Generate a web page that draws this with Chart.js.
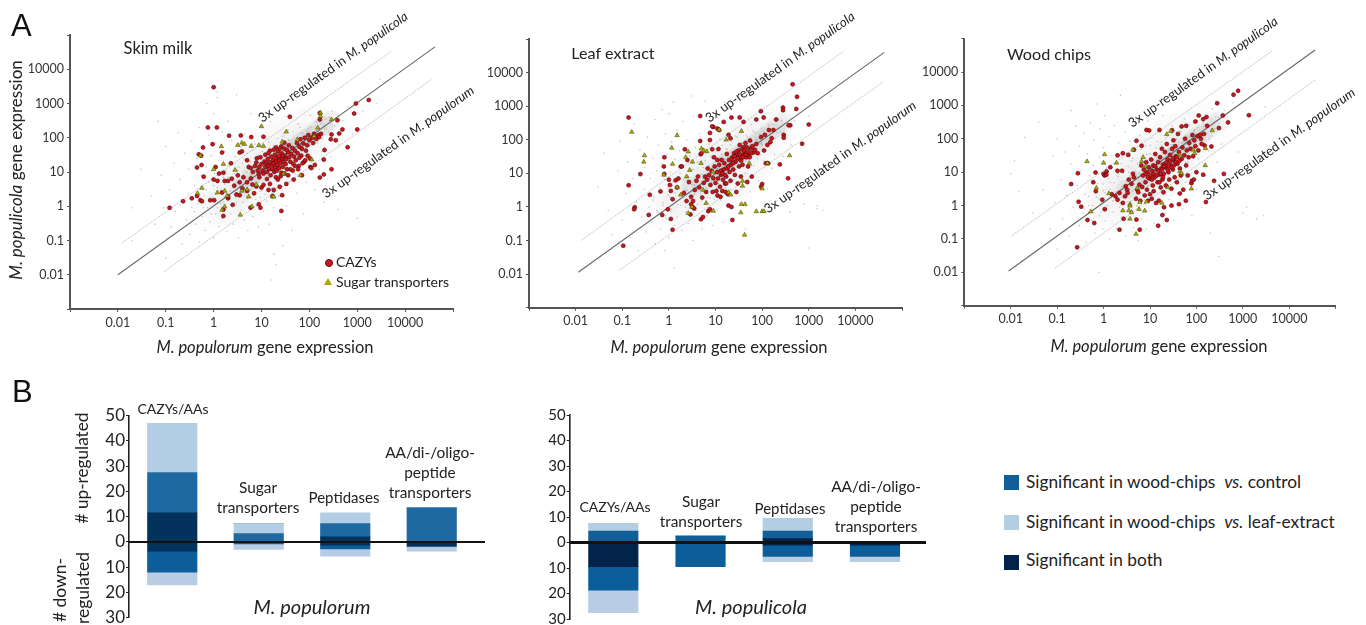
<!DOCTYPE html>
<html lang="en">
<head>
<meta charset="UTF-8">
<title>Gene expression comparison</title>
<style>
    html, body { margin: 0; padding: 0; background: #fff; width: 1366px; height: 625px; overflow: hidden; }
    body { position: relative; font-family: Lato, sans-serif; color: #222; }
    canvas { position: absolute; }
    .t { position: absolute; white-space: nowrap; transform: translate(-50%, -50%); line-height: 1; }
    .r90 { transform: translate(-50%, -50%) rotate(-90deg); }
    .diag { font-size: 13px; transform: translate(-50%, -50%) rotate(-35.5deg); }
    .xt { font-size: 16.5px; }
    .cat { font-size: 15.4px; text-align: center; line-height: 20px; }
    .sw { position: absolute; width: 15px; height: 15px; }
    .lg { position: absolute; font-size: 17.3px; white-space: pre; line-height: 1; transform: translateY(-50%); }
    .big { position: absolute; font-family: "Liberation Sans", sans-serif; font-size: 31px; color: #111; line-height: 1; }
</style>
<script src="https://cdn.jsdelivr.net/npm/chart.js"></script>
</head>
<body>
<canvas id="skim" width="470" height="331" style="left:20px;top:14px"></canvas>
<canvas id="leaf" width="450" height="331" style="left:480px;top:14px"></canvas>
<canvas id="wood" width="451" height="331" style="left:915px;top:14px"></canvas>
<canvas id="popA" width="400" height="250" style="left:90px;top:400px"></canvas>
<canvas id="popB" width="400" height="250" style="left:530px;top:400px"></canvas>

<div class="big" style="left:11px;top:10px">A</div>
<div class="big" style="left:12px;top:376px">B</div>

<div class="t" style="left:158px;top:48px;font-size:16.5px">Skim milk</div>
<div class="t" style="left:613px;top:53px;font-size:16.2px">Leaf extract</div>
<div class="t" style="left:1049px;top:54px;font-size:16.2px">Wood chips</div>

<div class="t diag" style="left:333px;top:67px">3x up-regulated in <i>M. populicola</i></div>
<div class="t diag" style="left:398px;top:142px">3x up-regulated in <i>M. populorum</i></div>
<div class="t diag" style="left:780px;top:67px">3x up-regulated in <i>M. populicola</i></div>
<div class="t diag" style="left:840px;top:157px">3x up-regulated in <i>M. populorum</i></div>
<div class="t diag" style="left:1203px;top:72px">3x up-regulated in <i>M. populicola</i></div>
<div class="t diag" style="left:1279px;top:144px">3x up-regulated in <i>M. populorum</i></div>

<div class="t r90" style="left:15px;top:170px;font-size:17px"><i>M. populicola</i> gene expression</div>
<div class="t xt" style="left:265px;top:347px"><i>M. populorum</i> gene expression</div>
<div class="t xt" style="left:719px;top:347px"><i>M. populorum</i> gene expression</div>
<div class="t xt" style="left:1159px;top:346px"><i>M. populorum</i> gene expression</div>

<div class="sw" style="left:324.5px;top:259px;width:6px;height:6px;border-radius:50%;background:#d0141c;border:.5px solid #611"></div>
<div class="t" style="left:336px;top:262px;font-size:14px;transform:translateY(-50%)">CAZYs</div>
<div class="sw" style="left:324px;top:278px;width:8px;height:7px;background:#a8a800;clip-path:polygon(50% 0,100% 100%,0 100%)"></div>
<div class="t" style="left:336px;top:282px;font-size:14px;transform:translateY(-50%)">Sugar transporters</div>

<div class="t r90" style="left:82px;top:468px;font-size:17.2px"># up-regulated</div>
<div class="t r90" style="left:60px;top:590px;font-size:17.5px"># down-</div>
<div class="t r90" style="left:83px;top:588px;font-size:17.5px">regulated</div>

<div class="t cat" style="left:173px;top:409px;font-size:14px">CAZYs/AAs</div>
<div class="t cat" style="left:258px;top:497px">Sugar<br>transporters</div>
<div class="t cat" style="left:344px;top:497px;font-size:15px">Peptidases</div>
<div class="t cat" style="left:430px;top:472px">AA/di-/oligo-<br>peptide<br>transporters</div>
<div class="t" style="left:312px;top:606px;font-size:20px;font-style:italic">M. populorum</div>

<div class="t cat" style="left:615px;top:507px;font-size:14px">CAZYs/AAs</div>
<div class="t cat" style="left:701px;top:511px">Sugar<br>transporters</div>
<div class="t cat" style="left:790px;top:508px;font-size:15px">Peptidases</div>
<div class="t cat" style="left:876px;top:506px">AA/di-/oligo-<br>peptide<br>transporters</div>
<div class="t" style="left:751px;top:606px;font-size:20px;font-style:italic">M. populicola</div>

<div class="sw" style="left:1004px;top:475px;background:#125f97"></div>
<div class="lg" style="left:1026px;top:482px">Significant in wood-chips  <i>vs.</i> control</div>
<div class="sw" style="left:1004px;top:515px;background:#b3cde3"></div>
<div class="lg" style="left:1026px;top:522px">Significant in wood-chips  <i>vs.</i> leaf-extract</div>
<div class="sw" style="left:1004px;top:555px;background:#03234a"></div>
<div class="lg" style="left:1026px;top:560px">Significant in both</div>

<script>
// axis ticks shared by the three scatter panels
const logTickValues = [0.001, 0.01, 0.1, 1, 10, 100, 1000, 10000, 100000];
const logTickLabels = ['', '0.01', '0.1', '1', '10', '100', '1000', '10000', ''];

// ---- skim milk ----
const skimDiagonal = [[0.01, 0.01], [42000, 45000]];
const skimUpper = [[0.012, 0.083], [5200, 34000]];
const skimLower = [[0.09, 0.012], [36000, 5100]];
const skimCazy = [[1,3000],[.76,200],[1.17,200],[2.1,115],[3.7,117],[.95,65],[.6,52],[.49,33],[.55,30],[.45,13.5],[.56,16],[.62,7.3],
[.12,.9],[.23,1.4],[.35,1.7],[.45,2],[.53,1.5],[.57,1.4],[.85,1.5],[1.03,1.5],[1000,175],[1740,1270],[940,1000],[860,510],[630,53],[490,175],[385,325],[420,133],[355,84],[280,90],[290,125],[290,12],[200,8.5],[165,6.9],[200,23],[207,44],[39,410],[165,530],[165,340],[11,107],[6.1,105],
[1.6,.52],[1.6,.8],[26,.73],[9.5,.91],[8.8,1.15],[5.9,.91],[27,2.1],[17,2],[14,3],[10,3.5],[7,2.4],[5,2.8],[3.5,2.1],[3,2.2],[2.5,1.1],[2,1.7],[2,1.9],[1.5,2.5],[1.2,5.5],[1,6],[1.1,14],[1.3,9],[1.6,9.5],[2,5.5],[1.7,5.5],[2.4,6.4],[2.7,4],[3.2,8],[3.5,5],[4.2,7],[4,3.3],[5,5],[6,6.5],[6.5,4.3],[7.8,3.8],[9,7],[11,4.2],[13,6.2],[15,4.5],[18,3],[24,3.7],[33,4.5],
[1.5,37],[2.3,18],[3.5,37],[3.9,40],[5,22],[5.4,14],[6,13],[6.6,10],[7.3,15],[7.8,19],[8.3,11],[8.8,8.7],[9,14],[9.5,27],[10,17],[10.5,11],[11,9],[11.5,20],[12,14],[12.5,18],[13,10],[13.5,24],[14,15],[14.5,12],[15,19],[15.5,8],[16,28],[16.5,16],[17,12],[17.5,22],[18,18],[18.5,10],[19,32],[19.5,14],[20,25],[20.5,20],[21,11],[21.5,16],[22,40],[23,29],[23.5,13],[24,22],[25,18],[26,9.5],[26.5,35],[27,25],[28,14],[29,20],[30,48],[31,30],[32,17],[33,24],[34,12],[36,38],[37,60],[38,27],[40,20],[42,34],[44,50],[46,17],[48,28],[50,42],[52,22],[55,70],[57,35],[60,15],[62,55],[65,90],[68,30],[70,48],[75,68],[78,20],[80,100],[85,42],[90,60],[95,120],[100,85],[105,14],[110,13],[115,100],[120,70],[125,130],[130,16],[140,92],[150,110],[155,120],[160,105],[175,130],[70,8],[58,12],[45,11],[82,22],[47,6],
[8,25],[12,32],[15,42],[20,52],[26,56],[30,72],[20,7],[25,7.5],[30,9],[36,8],[40,12],[50,15],[62,26],[72,18],[92,30],[102,25],[14,36],[18,45],[24,48],[34,44],[28,30],[22,6]];
const skimSugar = [[.53,30],[1.45,56],[3.2,61],[3.9,71],[4.4,65],[6.1,57],[8.8,60],[10,215],[11,57],[33,150],[27,76],[56,89],[170,530],[170,425],[290,340],[150,195],[125,110],[112,23],[65,8],[29,9],[1,12],[1.6,17],[.57,3.4],[.46,2.4],[1.2,2.5],[1.9,2],[2.8,11.4],[1.7,2.8],[5.4,1.9],[17,1.9],[18,1.9],[6.3,.98],[1.7,.98],[1.5,.78],[3.6,.56],[7.8,4.2],[5,3.1],[3.9,2.8]];
const skimGray = [[.02,.9],[.03,12],[.05,2],[.06,.3],[.07,300],[.08,8],[.09,.9],[.1,55],[.1,.03],[.12,3],[.13,.25],[.15,18],[.16,.7],[.18,140],[.2,1.1],[.2,6],[.22,.08],[.25,35],[.27,.4],[.3,2.4],[.3,12],[.32,.15],[.35,80],[.35,.9],[.4,4],[.42,.3],[.45,25],[.47,1.2],[.5,200],[.5,.09],[.55,8],[.58,.5],[.6,60],[.62,2],[.65,.2],[.7,14],[.72,1000],[.75,.9],[.8,5],[.8,120],[.85,.35],[.9,30],[.95,1.8],[1,500],[1,.12],[1.05,9],[1.1,.6],[1.1,70],[1.2,3.5],[1.2,1500],[1.3,.25],[1.3,22],[1.4,1.2],[1.5,150],[1.5,.45],[1.6,7],[1.7,40],[1.8,.9],[1.9,.18],[2,15],[2,300],[2.2,2.8],[2.3,.6],[2.4,85],[2.5,5.5],[2.6,.3],[2.8,28],[3,1.3],[3,1800],[3.2,11],[3.3,.12],[3.5,3.8],[3.7,55],[3.8,.75],[4,18],[4.2,8],[4.4,.4],[4.5,130],[4.8,2],[5,35],[5.2,.2],[5.5,6],[5.7,1],[6,20],[6,500],[6.3,3.3],[6.6,.5],[7,12],[7.3,65],[7.6,1.6],[8,28],[8.3,5],[8.6,.25],[9,17],[9.3,220],[9.6,2.8],[10,9],[10.5,40],[11,.7],[11,23],[11.5,4.5],[12,13],[12.5,90],[13,1.4],[13.5,30],[14,7],[14.5,.3],[15,16],[15.5,300],[16,3.2],[17,45],[17.5,10],[18,.9],[19,22],[20,6],[20,700],[21,60],[22,14],[23,2],[24,32],[25,.4],[26,18],[27,110],[28,8],[30,42],[32,25],[33,1],[35,14],[36,170],[38,5],[40,70],[42,30],[44,.2],[45,20],[48,100],[50,9],[52,45],[55,2.4],[58,250],[60,28],[63,65],[66,15],[70,140],[72,40],[75,.6],[80,85],[85,5],[90,30],[95,190],[100,60],[105,450],[110,20],[120,110],[130,3],[140,160],[150,70],[160,12],[170,250],[190,95],[200,1.3],[220,350],[250,150],[280,28],[300,600],[340,220],[400,.8],[420,60],[500,320],[650,800],[800,130],[1000,.45],[1300,600],[2500,1000],[3000,5000],[16,.007],[20,.02],[28,.07],[18,.04],[1.2,2200],[.02,.1],
[.4,.7],[.5,1.7],[.6,.9],[.7,3],[.8,1.4],[.9,.6],[1,4],[1.1,2.2],[1.2,.9],[1.3,6],[1.4,2.9],[1.6,1.3],[1.7,4.4],[1.8,11],[2,2.3],[2.1,7],[2.3,1.1],[2.5,3.4],[2.7,9],[2.9,1.8],[3.1,5],[3.4,14],[3.6,2.6],[3.9,7],[4.1,1.3],[4.3,24],[4.6,4],[4.9,10],[5.1,1.7],[5.4,16],[5.8,3],[6.1,8],[6.4,44],[6.8,2.1],[7.2,19],[7.5,5],[7.9,1],[8.2,12],[8.5,31],[8.9,3.4],[9.2,6.5],[9.5,1.8],[9.9,24],[10.3,58],[10.8,4],[11.3,15],[11.8,2.2],[12.3,34],[13,9],[13.6,18],[14.2,75],[15,5],[15.8,28],[16.5,11],[17.2,2.6],[18,58],[19,13],[20,34],[21,3.5],[22,95],[23,20],[24.5,7],[26,42],[27.5,14],[29,130],[31,60],[34,4.5],[37,85],[39,25],[43,11],[46,150],[50,33],[54,75],[59,18],[64,200],[69,55],[74,105],[80,30],[88,160],[96,85],[110,200],[125,70],[140,290],[165,130],[185,40],[210,180],[260,400]];
const skimHaze = [[4,4],[6,7],[9,9],[12,14],[16,18],[20,22],[25,30],[32,32],[40,48],[50,50],[65,75],[85,95],[110,120],[150,170],[200,220],[280,320]];
const skimCloud = [[.7,.7],[1,3],[1.5,1],[2,8],[2,2],[3,.8],[3,4],[4,14],[5,2],[5,6],[7,20],[8,3],[10,40],[10,10],[14,5],[16,70],[20,20],[25,8],[30,120],[35,40],[50,18],[60,180],[70,70],[100,35],[120,250],[200,120]];

// ---- leaf extract ----
const leafDiagonal = [[0.0114, 0.0114], [41600, 40000]];
const leafUpper = [[0.013, 0.1], [5400, 42000]];
const leafLower = [[0.087, 0.013], [38000, 5100]];
const leafCazy = [[450,4500],[560,1900],[540,830],[94,710],[280,910],[280,760],[4.7,510],[.137,460],[1000,285],[400,270],[370,270],[200,400],[108,460],[75,400],[40,340],[33,460],[22,460],[15,340],[9,240],[8.5,250],[11,215],[12,195],[140,195],[175,195],[115,140],[290,140],[290,115],[720,76],[7.6,160],[7.6,98],[19,140],[21,110],[240,18.5],[135,20],[120,20],[360,7.1],[100,4.8],[95,4],
[.137,4.4],[.245,9.5],[.39,2.3],[.185,.98],[.18,.85],[.37,.58],[.72,.58],[.95,.85],[1.1,.44],[1.2,.21],[.105,.07],[4.9,.43],[23,.41],[.66,2.9],[.8,30],[.78,16],[.8,9.6],
[1,6.5],[1.05,4.5],[1.1,3],[1.2,1.7],[1.4,6.2],[1.5,3.8],[1.6,7],[1.8,16],[1.9,16],[2.1,2.6],[2.2,52],[2.4,1.5],[2.5,25],[2.7,5.5],[2.9,.6],[3,2],[3,1.2],[3.2,1],[3.3,1.5],[3.5,.9],[3.6,3.2],[3.9,6],[4.2,8],[4.5,3.8],[4.7,92],[4.8,37],[5,40],[5.2,1.9],[5.4,.5],[5.6,5.2],[6,8],[6.3,2.8],[6.6,6.5],[6.8,14],[7,.75],[7.3,9],[7.6,.85],[7.8,4.5],[8.2,12],[8.5,52],[8.7,2.8],[9,7.2],[9.3,30],[9.6,16],[10,5.2],[10.5,3],[10.8,11],[11,2.2],[11.3,7],[11.6,53],[12,18],[12.5,4],[12.8,2],[13,9],[13.5,25],[14,3],[14.5,6.5],[15,13],[15.5,20],[16,5],[16.5,2.8],[17,8],[17.5,38],[18,14],[18.5,2.4],[19,1.1],[19.5,25],[20,11],[21,6],[21.5,18],[22,1],[23,30],[24,13],[25,40],[26,9],[27,22],[28,2.8],[29,34],[30,5],[31,48],[32,16],[33,70],[34,26],[35,8],[37,34],[38,18],[40,60],[42,42],[44,80],[46,30],[48,5.5],[50,16],[52,38],[55,95],[57,55],[60,8],[65,42],[70,50],[75,75],[80,40],[95,120],[110,48],[130,70],[150,85],[160,110],
[11,25],[13,12],[16,9],[19,16],[22,26],[24,20],[26,32],[28,44],[30,28],[33,38],[35,24],[37,52],[39,30],[41,48],[45,36],[47,60],[49,44],[54,30],[58,40],[62,64],[14,10],[17,5]];
const leafSugar = [[.16,170],[.3,34],[.29,22],[.78,9],[1.15,57],[1.5,135],[2.3,30],[2.6,44],[3.2,22],[1.2,19],[2.8,12.5],[2.4,8],[5,55],[5.6,48],[4.9,20],[5.4,3.2],[1.8,2.3],[1.5,3.8],[6.3,1.3],[9,.76],[2.6,.65],[3.1,1],[19,2.7],[21,2.3],[38,4.2],[38,5.9],[35,.68],[36,1.2],[43,1.2],[75,.74],[100,.74],[110,.74],[100,3.5],[42,.147],[390,34],[36,180],[12,200],[17,100],[53,20],[130,20],[8.8,11],[6.5,45]];
const leafGray = [[.03,4],[.04,40],[.05,.8],[.06,.15],[.08,12],[.09,90],[.1,.4],[.12,2.5],[.13,22],[.15,.12],[.17,7],[.18,300],[.2,1.4],[.22,.05],[.24,50],[.26,.5],[.3,3.3],[.3,15],[.32,.18],[.35,120],[.38,1],[.4,7],[.43,.35],[.45,28],[.48,2],[.5,400],[.5,.08],[.55,12],[.58,.7],[.6,70],[.63,3.8],[.66,.22],[.7,19],[.72,800],[.75,1.1],[.8,6.5],[.82,.05],[.85,150],[.87,.45],[.9,36],[.95,2.3],[1,600],[1,.12],[1.05,11],[1.1,.75],[1.15,85],[1.2,4.3],[1.25,1300],[1.3,.28],[1.35,26],[1.4,1.5],[1.5,190],[1.5,.5],[1.6,8],[1.7,48],[1.8,1.1],[1.9,.2],[2,18],[2,350],[2.2,3.2],[2.3,.7],[2.4,100],[2.5,6.2],[2.6,.32],[2.8,33],[3,1.5],[3,2000],[3.2,13],[3.3,.1],[3.5,4.5],[3.7,60],[3.8,.8],[4,21],[4.2,9],[4.4,.4],[4.5,150],[4.8,2.4],[5,42],[5.2,.22],[5.5,7],[5.7,1.2],[6,24],[6,1400],[6.3,3.8],[6.6,.55],[7,14],[7.3,75],[7.6,1.8],[8,32],[8.3,6],[8.6,.28],[9,19],[9.3,260],[9.6,3.2],[10,10],[10.5,46],[11,.8],[11,26],[11.5,5],[12,15],[12.5,105],[13,1.6],[13.5,36],[14,8],[14.5,.35],[15,18],[15.5,1300],[16,3.7],[17,52],[17.5,11],[18,1],[19,25],[20,7],[20,580],[21,70],[22,16],[23,2.3],[24,36],[25,.45],[26,21],[27,130],[28,9],[30,48],[32,28],[33,1.2],[35,16],[36,200],[38,6],[40,80],[42,34],[44,.22],[45,23],[48,120],[50,10],[52,52],[55,2.8],[58,290],[60,32],[63,75],[66,17],[70,160],[72,46],[75,.7],[80,100],[85,6],[90,35],[95,220],[100,70],[105,520],[110,23],[120,130],[130,3.5],[140,190],[150,82],[160,14],[170,290],[190,110],[200,1.5],[220,400],[250,170],[280,32],[300,700],[340,260],[400,.7],[420,70],[500,370],[800,1.2],[1000,500],[1500,.9],[3000,2000],[1500,1.1],[2000,.8],[1000,.06],[1.3,.015],
[.35,.6],[.45,1.6],[.55,.8],[.65,2.7],[.75,1.3],[.85,.55],[.95,3.6],[1.05,2],[1.15,.85],[1.25,5.5],[1.35,2.6],[1.55,1.2],[1.65,4],[1.75,10],[1.95,2.1],[2.05,6.4],[2.25,1],[2.45,3.1],[2.65,8.2],[2.85,1.7],[3.05,4.6],[3.35,13],[3.55,2.4],[3.85,6.4],[4.05,1.2],[4.25,22],[4.55,3.7],[4.85,9.2],[5.05,1.6],[5.35,15],[5.75,2.8],[6.05,7.4],[6.35,40],[6.75,1.9],[7.15,17],[7.45,4.6],[7.85,.9],[8.15,11],[8.45,28],[8.85,3.1],[9.15,6],[9.45,1.7],[9.85,22],[10.2,53],[10.7,3.7],[11.2,14],[11.7,2],[12.2,31],[12.9,8.3],[13.5,16],[14.1,69],[14.9,4.6],[15.7,26],[16.4,10],[17.1,2.4],[17.9,53],[18.9,12],[19.9,31],[20.9,3.2],[21.9,87],[22.9,18],[24.4,6.4],[25.9,39],[27.4,13],[28.9,120],[30.9,55],[33.9,4.1],[36.9,78],[38.9,23],[42.9,10],[45.9,138],[49.9,30],[53.9,69],[58.9,17],[63.9,184],[68.9,51],[73.9,97],[79.9,28],[87.9,147],[95.9,78],[109,184],[124,64],[139,267],[164,120],[184,37],[209,166],[259,368]];
const leafHaze = [[3,4],[5,5],[8,9],[10,9],[13,15],[17,18],[20,24],[26,28],[32,35],[40,45],[50,55],[65,70],[85,95],[110,120],[150,170],[200,230],[300,330]];
const leafCloud = [[.6,.8],[1,3],[1.4,1],[2,9],[2,2],[3,.7],[3,4],[4,16],[5,2],[5,7],[6,30],[8,3],[10,50],[10,10],[14,4],[16,90],[20,20],[25,7],[30,150],[35,40],[50,16],[60,200],[70,80],[100,30],[120,280],[200,130]];

// ---- wood chips ----
const woodDiagonal = [[0.009, 0.011], [36000, 46000]];
const woodUpper = [[0.0105, 0.124], [4350, 44000]];
const woodLower = [[0.09, 0.0133], [36000, 5800]];
const woodCazy = [[790,2750],[630,2100],[1350,510],[280,1170],[370,500],[480,310],[305,210],[112,500],[165,450],[140,390],[95,330],[170,245],[60,245],[48,235],[30,180],[16,185],[8.4,185],[9.6,178],[5.1,87],[6.6,62],[2,32],[2.6,37],[3.4,33],[4.5,47],[1.4,14],[2,11],[2.5,11],[1.16,10.5],[1,8.9],[.67,9.8],[.6,5],[.28,9.3],[.2,4.4],[.68,2.7],[.29,1.3],[.33,.93],[.45,.37],[.63,.3],[.27,.056],[1.06,.78],[.94,1.5],[2.2,.19],[2.7,.4],[5.1,.38],[6,.19],[15,.25],[18.5,.52],[23,.37],[20,.89],[29,1],[42,1.1],[59,1.4],[44,2.3],[160,1.28],[390,8.9],[240,5.5],[140,8.4],[210,59],[150,63],
[1.05,8],[1.15,8.4],[1.5,2.2],[1.8,1.9],[2,1.5],[2.2,2.4],[2.6,1.2],[2.9,1.9],[3,3.8],[3.2,3],[3.3,2.4],[3.5,6],[4,4.5],[4.3,9],[4.5,7],[5,1.6],[5.3,3],[5.6,2.5],[5.9,4.2],[6.2,1.4],[6.5,16],[6.8,3.6],[7.1,8],[7.4,12],[7.7,2],[8,5],[8.3,20],[8.6,3],[8.9,10],[9.1,1.4],[9.4,14],[9.7,6.5],[10,2.2],[10.3,8],[10.6,24],[10.9,1.6],[11.2,11],[11.5,4],[11.8,16],[12,2.7],[12.5,7],[13,35],[13.5,1.2],[14,12],[14.5,5],[15,20],[15.5,1.4],[16,8.5],[16.5,28],[17,3.5],[17.5,13],[18,50],[18.5,6],[19,17],[19.5,2.5],[20,9],[21,40],[21.5,14],[22,4],[23,70],[24,24],[25,10],[26,6],[27,33],[28,16],[29,3.2],[30,50],[31,12],[32,90],[33,22],[34,7],[35,60],[36,30],[38,5],[39,18],[40,140],[42,40],[44,13],[46,8],[48,25],[50,55],[52,3],[55,32],[57,100],[60,16],[62,45],[65,8],[68,28],[70,75],[75,50],[78,4.7],[80,5.5],[82,130],[85,30],[88,6],[90,90],[95,60],[100,10],[105,120],[110,45],[120,130],[125,100],[130,70],[145,140],
[8,9],[9,7],[11,6],[12,9],[13,15],[14,8],[15,11],[16,5],[17,9],[18,12],[19,7],[20,15],[22,19],[24,12],[25,16],[27,21],[29,14],[31,26],[33,16],[36,20],[38,28],[43,22]];
const woodSugar = [[.44,21],[1.05,34],[1,19],[1.9,19],[.7,3.4],[1.3,2.3],[.53,.66],[4.3,47],[6.6,21],[7.1,28],[2.6,.71],[3.5,.71],[4,.63],[3.7,.4],[5,.14],[5.8,.78],[7.7,.7],[6,1.26],[8.4,1.3],[3.7,1.1],[3.7,.98],[5.3,3.3],[18,1.2],[24.5,3.5],[78,3.2],[155,16],[157,52],[220,178],[85,47],[92,37],[44,10.5],[48,9.3],[23,137],[28,170],[44,33],[8,15]];
const woodGray = [[.01,9],[.012,22],[.015,2.6],[.02,110],[.03,.6],[.04,320],[.05,3],[.07,.2],[.08,30],[.09,1.2],[.1,.05],[.1,100],[.12,6],[.13,.4],[.15,40],[.16,2],[.18,.12],[.2,18],[.2,700],[.22,.9],[.25,240],[.27,4],[.3,.25],[.3,60],[.33,11],[.36,.6],[.38,150],[.4,2.2],[.42,.08],[.45,36],[.48,1],[.5,8],[.52,300],[.55,.35],[.6,16],[.62,90],[.65,.15],[.7,1.8],[.72,1100],[.75,4.5],[.8,.5],[.82,28],[.85,200],[.9,1.2],[.95,.2],[1,55],[1,2.8],[1.05,500],[1.1,.35],[1.15,14],[1.2,1.5],[1.3,120],[1.35,.1],[1.4,5],[1.5,32],[1.6,.65],[1.7,250],[1.8,2.6],[1.9,.2],[2,9],[2.1,75],[2.2,.9],[2.3,2000],[2.4,18],[2.5,.45],[2.7,4],[2.9,160],[3,.12],[3.1,38],[3.3,1.3],[3.5,10],[3.7,85],[3.8,.55],[4,22],[4.2,2.7],[4.4,.22],[4.6,300],[4.8,6],[5,48],[5.2,1],[5.5,.09],[5.7,14],[6,125],[6.2,3.3],[6.5,.4],[7,27],[7.3,8],[7.6,1.5],[8,62],[8.3,.2],[8.6,18],[9,340],[9.3,4],[9.6,.7],[10,35],[10.5,11],[11,105],[11.5,2],[12,22],[12.5,.3],[13,6],[13.5,55],[14,14],[14.5,170],[15,1.1],[16,30],[17,3.4],[17.5,80],[18,9],[19,500],[20,19],[21,.6],[22,45],[23,5],[24,120],[25,28],[26,1.5],[27,12],[28,65],[30,240],[32,35],[33,.35],[35,8],[37,100],[38,18],[40,2.4],[42,50],[44,170],[46,12],[48,75],[50,.8],[52,30],[55,400],[58,5],[60,120],[63,55],[66,20],[70,260],[75,9],[78,90],[80,.5],[85,40],[90,180],[95,70],[100,3],[105,350],[110,25],[120,130],[130,.9],[140,230],[150,60],[160,8],[170,450],[190,100],[200,.15],[220,800],[250,200],[280,20],[300,450],[350,70],[400,700],[500,350],[600,1200],[800,40],[1000,.6],[1200,.9],[2000,.4],[2800,.5],[3000,900],[300,.03],[.8,.01],
[.38,.8],[.48,1.9],[.58,1],[.68,3.2],[.78,1.6],[.88,.65],[.98,4.4],[1.08,2.4],[1.18,1],[1.28,6.5],[1.38,3.1],[1.58,1.4],[1.68,4.8],[1.78,12],[1.98,2.5],[2.08,7.6],[2.28,1.2],[2.48,3.7],[2.68,9.8],[2.88,2],[3.08,5.5],[3.38,15],[3.58,2.9],[3.88,7.7],[4.08,1.4],[4.28,26],[4.58,4.4],[4.88,11],[5.08,1.9],[5.38,18],[5.78,3.3],[6.08,8.8],[6.38,48],[6.78,2.3],[7.18,21],[7.48,5.5],[7.88,1.1],[8.18,13],[8.48,34],[8.88,3.7],[9.18,7.2],[9.48,2],[9.88,26],[10.3,64],[10.8,4.4],[11.3,17],[11.8,2.4],[12.3,37],[13,10],[13.6,20],[14.2,83],[15,5.5],[15.8,31],[16.5,12],[17.2,2.9],[18,64],[19,14],[20,37],[21,3.9],[22,105],[23,22],[24.5,7.7],[26,46],[27.5,15],[29,143],[31,66],[34,5],[37,94],[39,28],[43,12],[46,165],[50,36],[54,83],[59,20],[64,220],[69,61],[74,116],[80,33],[88,176],[96,94],[110,220],[125,77],[140,319],[165,143],[185,44],[210,198],[260,440]];
const woodHaze = [[3,3],[5,5],[8,7],[10,10],[13,13],[17,16],[22,22],[28,28],[35,35],[45,45],[60,65],[80,85],[100,110],[140,150],[200,220],[300,340]];
const woodCloud = [[.5,.7],[1,3],[1.4,1],[2,9],[2,2],[3,.7],[3,4],[4,16],[5,2],[5,7],[6,30],[8,3],[10,50],[10,10],[14,4],[16,90],[20,20],[25,7],[30,150],[35,40],[50,16],[60,200],[70,80],[100,30],[120,280],[200,130]];

// ---- bar panels, values as stacked segments per category ----
const barCategories = ['CAZYs/AAs', 'Sugar transporters', 'Peptidases', 'AA/di-/oligo-peptide transporters'];
const barTickValues = [-30, -20, -10, 0, 10, 20, 30, 40, 50];

const popABothUp = [11.5, 0, 2, 0];
const popAControlUp = [16, 3.3, 5.3, 13.5];
const popALeafUp = [19.5, 4, 4.2, 0];
const popABothDown = [-3.7, 0, -1.3, -1.8];
const popAControlDown = [-8.3, -0.8, -1.5, 0];
const popALeafDown = [-5, -2.2, -2.8, -1.9];

const popBBothUp = [0, 0, 1.5, 0];
const popBControlUp = [4.5, 2.5, 3, 0];
const popBLeafUp = [3, 0, 5, 0];
const popBBothDown = [-9.5, 0, -1, -1];
const popBControlDown = [-9.2, -9.5, -4.5, -4.5];
const popBLeafDown = [-8.8, 0, -2, -2];

const pts = a => a.map(p => ({ x: p[0], y: p[1] }));

// box = [canvasLeft, canvasTop, canvasWidth, canvasHeight], area = [left, top, right, bottom] in page px
// keep top/right padding above the biggest point radius, chart.js grows the padding to fit it otherwise
function fixedAxes(box, area) {
    return {
        padding: { top: area[1] - box[1], right: box[0] + box[2] - area[2], left: 0, bottom: 0 },
        yWidth: area[0] - box[0],
        xHeight: box[1] + box[3] - area[3]
    };
}

function logAxis(fit) {
    return {
        type: 'logarithmic', min: 0.001, max: 100000,
        afterFit: fit,
        afterBuildTicks: s => { s.ticks = logTickValues.map(v => ({ value: v })); },
        border: { color: '#555', width: 2 },
        grid: { drawOnChartArea: false, tickLength: 3, color: '#555' },
        ticks: {
            autoSkip: false, maxRotation: 0, padding: 3, color: '#333',
            font: { family: 'Lato', size: 12.5 },
            callback: (v, i) => logTickLabels[i]
        }
    };
}

function scatterPanel(id, box, area, s) {
    const f = fixedAxes(box, area);
    new Chart(document.getElementById(id), {
        type: 'scatter',
        data: {
            datasets: [
                { data: pts(s.sugar), pointStyle: 'triangle', pointRadius: 2.6, backgroundColor: '#b0ae00', borderColor: '#3a3a00', borderWidth: 0.5 },
                { data: pts(s.cazy), pointRadius: 2, backgroundColor: '#d0141c', borderColor: '#4a0a0a', borderWidth: 0.6 },
                { data: pts(s.diagonal), showLine: true, pointRadius: 0, borderColor: '#666', borderWidth: 1.1 },
                { data: pts(s.upper), showLine: true, pointRadius: 0, borderColor: '#aaa', borderWidth: 0.9, borderDash: [1, 1] },
                { data: pts(s.lower), showLine: true, pointRadius: 0, borderColor: '#aaa', borderWidth: 0.9, borderDash: [1, 1] },
                { data: pts(s.gray), pointRadius: 0.8, backgroundColor: 'rgba(120,120,120,0.4)', borderWidth: 0 },
                { data: pts(s.haze), pointRadius: 10, backgroundColor: 'rgba(120,120,120,0.09)', borderWidth: 0 },
                { data: pts(s.cloud), pointRadius: 20, backgroundColor: 'rgba(140,140,140,0.025)', borderWidth: 0 }
            ]
        },
        options: {
            responsive: false, animation: false,
            layout: { padding: f.padding },
            plugins: { legend: { display: false }, tooltip: { enabled: false } },
            scales: {
                x: logAxis(a => { a.height = f.xHeight; }),
                y: logAxis(a => { a.width = f.yWidth; })
            }
        }
    });
}

// x is linear so the zero line can run past the last bar: one category is one unit
function barPanel(id, box, area, xMax, s, tickSize, zeroWidth, shades) {
    const f = fixedAxes(box, area);
    f.padding.bottom = f.xHeight;
    const seg = (values, color) => ({
        stack: 's', backgroundColor: color, barThickness: 49.5, borderWidth: 0, order: 1,
        data: values.map((v, i) => ({ x: i + 1, y: v }))
    });
    new Chart(document.getElementById(id), {
        type: 'bar',
        data: {
            labels: barCategories,
            datasets: [
                { type: 'line', stack: 'zero', data: [{ x: 0.5, y: 0 }, { x: xMax, y: 0 }], borderColor: '#111', borderWidth: zeroWidth, pointRadius: 0, order: 0 },
                seg(s.bothUp, shades.dark),
                seg(s.controlUp, shades.midUp),
                seg(s.leafUp, shades.lightUp),
                seg(s.bothDown, shades.dark),
                seg(s.controlDown, shades.midDown),
                seg(s.leafDown, shades.lightDown)
            ]
        },
        options: {
            responsive: false, animation: false,
            layout: { padding: f.padding },
            plugins: { legend: { display: false }, tooltip: { enabled: false } },
            scales: {
                x: { type: 'linear', min: 0.5, max: xMax, offset: false, display: false, stacked: true },
                y: {
                    min: -30, max: 50, stacked: true,
                    afterFit: a => { a.width = f.yWidth; },
                    afterBuildTicks: a => { a.ticks = barTickValues.map(v => ({ value: v })); },
                    border: { color: '#222', width: 1.6 },
                    grid: { drawOnChartArea: false, tickLength: 3, color: '#222' },
                    ticks: { autoSkip: false, padding: 1, color: '#222', font: { family: 'Lato', size: tickSize }, callback: v => Math.abs(v) }
                }
            }
        }
    });
}

scatterPanel('skim', [20, 14, 470, 331], [70, 35, 453, 309], {
    cazy: skimCazy, sugar: skimSugar, gray: skimGray, haze: skimHaze, cloud: skimCloud,
    diagonal: skimDiagonal, upper: skimUpper, lower: skimLower
});
scatterPanel('leaf', [480, 14, 450, 331], [529, 39, 902, 307.7], {
    cazy: leafCazy, sugar: leafSugar, gray: leafGray, haze: leafHaze, cloud: leafCloud,
    diagonal: leafDiagonal, upper: leafUpper, lower: leafLower
});
scatterPanel('wood', [915, 14, 451, 331], [964.3, 38.7, 1335.7, 305.7], {
    cazy: woodCazy, sugar: woodSugar, gray: woodGray, haze: woodHaze, cloud: woodCloud,
    diagonal: woodDiagonal, upper: woodUpper, lower: woodLower
});

barPanel('popA', [90, 400, 400, 250], [129, 415.7, 485, 617.7], 4.616, {
    bothUp: popABothUp, controlUp: popAControlUp, leafUp: popALeafUp,
    bothDown: popABothDown, controlDown: popAControlDown, leafDown: popALeafDown
}, 17, 2, { dark: '#03335d', midUp: '#1f69a2', midDown: '#0b5e99', lightUp: '#b2cde4', lightDown: '#b8cce4' });

barPanel('popB', [530, 400, 400, 250], [569.7, 415, 926, 619], 4.585, {
    bothUp: popBBothUp, controlUp: popBControlUp, leafUp: popBLeafUp,
    bothDown: popBBothDown, controlDown: popBControlDown, leafDown: popBLeafDown
}, 15, 3, { dark: '#02244a', midUp: '#125f97', midDown: '#0b5e99', lightUp: '#b3cde3', lightDown: '#b8cce4' });
</script>
</body>
</html>
